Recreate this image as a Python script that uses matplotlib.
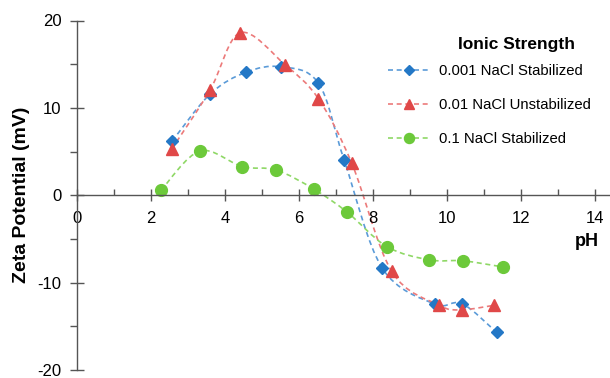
import numpy as np
import matplotlib
matplotlib.use("Agg")
import matplotlib.pyplot as plt
from matplotlib.path import Path
from matplotlib.patches import PathPatch
from matplotlib.lines import Line2D
from matplotlib.ticker import MultipleLocator

plt.rcParams['font.family'] = ['Liberation Sans', 'DejaVu Sans']
plt.rcParams['axes.unicode_minus'] = False

# data
ph_001 = [2.57, 3.60, 4.56, 5.50, 6.52, 7.22, 8.24, 9.66, 10.40, 11.34]
zeta_001 = [6.2, 11.6, 14.07, 14.7, 12.85, 4.0, -8.3, -12.45, -12.4, -15.7]
ph_01 = [2.56, 3.59, 4.41, 5.63, 6.52, 7.42, 8.50, 9.79, 10.40, 11.26]
zeta_01 = [5.3, 12.0, 18.6, 14.9, 11.06, 3.7, -8.7, -12.6, -13.1, -12.6]
ph_1 = [2.27, 3.32, 4.47, 5.38, 6.40, 7.30, 8.37, 9.52, 10.42, 11.50]
zeta_1 = [0.57, 5.06, 3.27, 2.89, 0.70, -1.94, -5.87, -7.4, -7.5, -8.2]

labels = ['0.001 NaCl Stabilized', '0.01 NaCl Unstabilized', '0.1 NaCl Stabilized']


def smooth_path(x, y, t=1/6):
    # Catmull-Rom style bezier through the points (like Excel "smoothed line")
    p = np.column_stack([x, y])
    n = len(p)
    verts = [p[0]]
    codes = [Path.MOVETO]
    for i in range(n - 1):
        p0 = p[i - 1] if i > 0 else p[i]
        p3 = p[i + 2] if i + 2 < n else p[i + 1]
        c1 = p[i] + (p[i + 1] - p0) * t
        c2 = p[i + 1] - (p3 - p[i]) * t
        verts += [c1, c2, p[i + 1]]
        codes += [Path.CURVE4] * 3
    return Path(verts, codes)


fig = plt.figure(figsize=(6.1, 3.78), dpi=100)
ax = fig.add_axes([77/610, 8/378, 1 - 77/610, 349.5/378])

series = [
    (ph_001, zeta_001, '#2478c6', '#5b9bd8', 'D', 6.0),
    (ph_01, zeta_01, '#e04848', '#ec7a7a', '^', 8.0),
    (ph_1, zeta_1, '#6cc93a', '#8fd866', 'o', 8.5),
]
handles = []
for (x, y, mc, lc, mk, ms), lab in zip(series, labels):
    patch = PathPatch(smooth_path(x, y), fill=False, edgecolor=lc, lw=1.2,
                      linestyle=(0, (3, 2.2)))
    ax.add_patch(patch)
    ax.plot(x, y, linestyle='none', marker=mk, ms=ms, color=mc, mec=mc)
    handles.append(Line2D([], [], color=lc, lw=1.2, linestyle=(0, (3, 2.2)),
                          marker=mk, ms=ms * 0.85, mfc=mc, mec=mc))

ax.set_xlim(0, 14.4)
ax.set_ylim(-20, 20)
ax.spines['top'].set_visible(False)
ax.spines['right'].set_visible(False)
ax.spines['bottom'].set_position(('data', 0))
for s in ('left', 'bottom'):
    ax.spines[s].set_color('#555555')
    ax.spines[s].set_linewidth(1.0)

ax.xaxis.set_major_locator(MultipleLocator(2))
ax.xaxis.set_minor_locator(MultipleLocator(1))
ax.yaxis.set_major_locator(MultipleLocator(10))
ax.yaxis.set_minor_locator(MultipleLocator(5))
ax.set_xticks(np.arange(0, 15, 2))
ax.tick_params(axis='x', which='major', direction='inout', length=8, width=1,
               color='#555555', labelsize=12, pad=7)
ax.tick_params(axis='x', which='minor', direction='in', length=4, width=1,
               color='#555555')
ax.tick_params(axis='y', which='major', direction='inout', length=10, width=1,
               color='#555555', labelsize=12, pad=6)
ax.tick_params(axis='y', which='minor', direction='out', length=5, width=1,
               color='#555555')
ax.set_yticks([-20, -10, 0, 10, 20])

ax.set_ylabel('Zeta Potential (mV)', fontsize=14, fontweight='bold')
ax.yaxis.set_label_coords(-0.088, 0.5)
fig.text(587/610, 1 - 242/378, 'pH', fontsize=13, fontweight='bold',
         ha='center', va='center')

fig.text(516/610, 1 - 44/378, 'Ionic Strength', fontsize=12.5,
         fontweight='bold', ha='center', va='center')
ax.legend(handles, labels, loc='upper left', bbox_to_anchor=(388/610, 1 - 64/378),
          bbox_transform=fig.transFigure, frameon=False, fontsize=10.7,
          borderpad=0, borderaxespad=0, handlelength=2.83, handletextpad=0.6,
          labelspacing=1.35)

fig.savefig('out.png', dpi=100)
